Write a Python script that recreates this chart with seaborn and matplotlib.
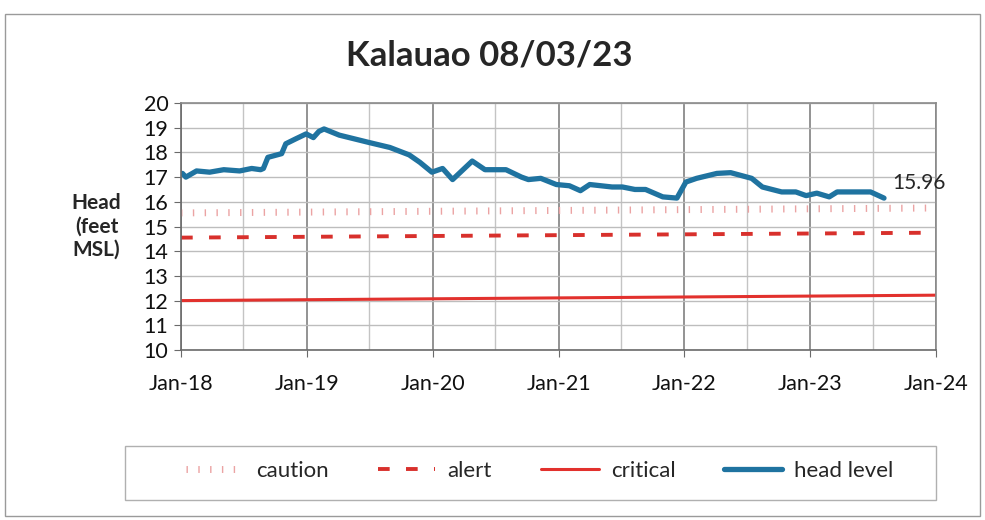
import numpy as np
import pandas as pd
import seaborn as sns
import matplotlib.pyplot as plt
import matplotlib.dates as mdates
from matplotlib.patches import Rectangle

sns.set_style("white")
plt.rcParams['font.family'] = ['Lato', 'DejaVu Sans']

# head level readings
head_dates = ["2018-01-05", "2018-01-15", "2018-02-15", "2018-03-25", "2018-05-05",
              "2018-06-20", "2018-07-25", "2018-08-20", "2018-08-28", "2018-09-10",
              "2018-10-20", "2018-11-01", "2018-11-30", "2018-12-30", "2019-01-20",
              "2019-02-05", "2019-02-20", "2019-04-05", "2019-07-01", "2019-08-30",
              "2019-10-25", "2019-11-25", "2019-12-30", "2020-01-30", "2020-02-28",
              "2020-04-25", "2020-06-01", "2020-08-01", "2020-09-15", "2020-10-05",
              "2020-11-10", "2020-12-25", "2021-02-01", "2021-03-05", "2021-04-01",
              "2021-06-05", "2021-07-05", "2021-08-10", "2021-09-10", "2021-10-30",
              "2021-12-10", "2022-01-05", "2022-02-05", "2022-04-05", "2022-05-15",
              "2022-07-15", "2022-08-15", "2022-10-10", "2022-11-20", "2022-12-20",
              "2023-01-20", "2023-02-25", "2023-03-20", "2023-06-25", "2023-08-03"]
head_vals = [17.15, 17.0, 17.25, 17.2, 17.3,
             17.25, 17.35, 17.3, 17.35, 17.8,
             17.95, 18.35, 18.55, 18.75, 18.6,
             18.85, 18.95, 18.7, 18.4, 18.2,
             17.9, 17.6, 17.2, 17.35, 16.9,
             17.65, 17.3, 17.3, 17.0, 16.9,
             16.95, 16.7, 16.65, 16.45, 16.7,
             16.6, 16.6, 16.5, 16.5, 16.2,
             16.15, 16.8, 16.95, 17.15, 17.18,
             16.95, 16.6, 16.4, 16.4, 16.25,
             16.35, 16.2, 16.4, 16.4, 16.15]
last_label = "15.96"

# threshold lines (start / end values)
thr_dates = ["2018-01-01", "2024-01-01"]
caution = [15.55, 15.75]
alert = [14.55, 14.75]
critical = [12.0, 12.22]

head_dates = pd.to_datetime(head_dates)
thr_dates = pd.to_datetime(thr_dates)

fig = plt.figure(figsize=(9.85, 5.2), dpi=100)
ax = fig.add_axes([0.1838, 0.3269, 0.9503 - 0.1838, 0.8019 - 0.3269])

# outer frame + legend box
fig.patches.append(Rectangle((0.005, 0.008), 0.99, 0.965, transform=fig.transFigure,
                             fill=False, edgecolor='#9a9a9a', linewidth=1.0))
fig.patches.append(Rectangle((0.127, 0.038), 0.823, 0.105, transform=fig.transFigure,
                             fill=False, edgecolor='#b0b0b0', linewidth=1.0))

sns.lineplot(x=thr_dates, y=caution, ax=ax, color='#eba3a3', linewidth=5,
             linestyle=(0, (0.2, 1.5)), label='caution')
sns.lineplot(x=thr_dates, y=alert, ax=ax, color='#d8302c', linewidth=2.8,
             linestyle=(0, (3.0, 4.2)), label='alert')
sns.lineplot(x=thr_dates, y=critical, ax=ax, color='#e2312d', linewidth=2.2,
             label='critical')
sns.lineplot(x=head_dates, y=head_vals, ax=ax, color='#1f73a0', linewidth=3.8,
             label='head level')

ax.annotate(last_label, xy=(head_dates[-1], head_vals[-1]), xytext=(6, 4),
            textcoords='offset points', fontsize=15, ha='left', va='bottom')

ax.set_xlim(pd.Timestamp("2018-01-01"), pd.Timestamp("2024-01-01"))
ax.set_ylim(10, 20)
ax.set_yticks(range(10, 21))
ax.xaxis.set_major_locator(mdates.YearLocator())
ax.xaxis.set_minor_locator(mdates.MonthLocator(bymonth=7))
ax.xaxis.set_major_formatter(mdates.DateFormatter('%b-%y'))

ax.grid(True, which='major', axis='y', color='#bdbdbd', linewidth=1.0)
ax.grid(True, which='major', axis='x', color='#8a8a8a', linewidth=1.3)
ax.grid(True, which='minor', axis='x', color='#c4c4c4', linewidth=1.0)
ax.set_axisbelow(True)

for s in ax.spines.values():
    s.set_color('#8a8a8a')
    s.set_linewidth(1.2)
ax.spines['left'].set_color('#6a6a6a')
ax.spines['bottom'].set_color('#6a6a6a')

ax.tick_params(axis='both', which='major', labelsize=15.5, length=5, color='#6a6a6a',
               direction='out', left=True, bottom=True, pad=4, labelcolor='#111111')
ax.tick_params(axis='x', which='major', pad=12)
ax.tick_params(axis='x', which='minor', length=0)

ax.set_xlabel('')
ax.set_ylabel('')
fig.text(0.098, 0.565, 'Head\n(feet\nMSL)', fontsize=15, fontweight='bold',
         ha='center', va='center', linespacing=1.2)

fig.text(0.497, 0.893, 'Kalauao 08/03/23', fontsize=25, fontweight='bold',
         ha='center', va='center')

handles, labels = ax.get_legend_handles_labels()
leg = ax.legend(handles, labels, loc='center', ncol=4,
                bbox_to_anchor=(0.548, 0.094),
                bbox_transform=fig.transFigure, fontsize=16, handlelength=2.6,
                frameon=False, handletextpad=0.55, columnspacing=2.2)

fig.savefig('out.png', dpi=100)
